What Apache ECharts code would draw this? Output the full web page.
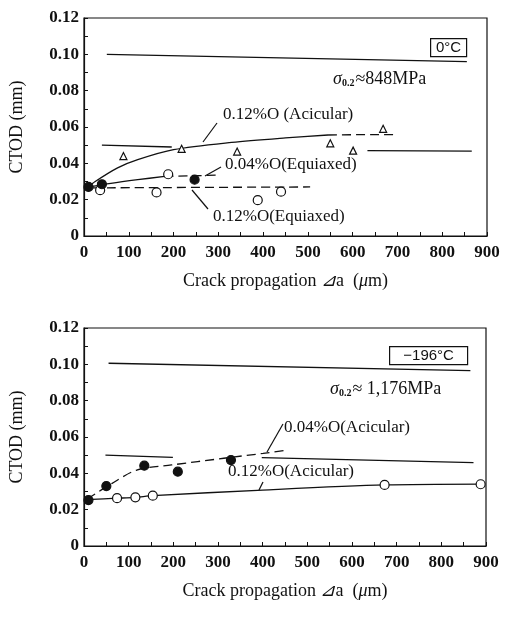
<!DOCTYPE html>
<html>
<head>
<meta charset="utf-8">
<script src="https://cdn.jsdelivr.net/npm/echarts@6/dist/echarts.min.js"></script>
<style>
  html, body { margin: 0; padding: 0; background: #fff; }
  #main { width: 509px; height: 617px; }
</style>
</head>
<body>
<div id="main"></div>
<script>
// 坐标刻度
var xTicks = [0, 900, 100];
var yTicks = [0, 0.12, 0.02];

// 上图 0°C
var topAcic12 = [[88, 0.044], [218, 0.048], [342, 0.0465], [550, 0.051], [601, 0.047], [668, 0.059]];
var topEqui04 = [[10, 0.027], [40, 0.0285], [247, 0.031]];
var topEqui12 = [[36, 0.0252], [162, 0.024], [188, 0.034], [388, 0.0197], [440, 0.0244]];
var topAcicCurve = [[10, 0.027], [25, 0.030], [75, 0.0375], [120, 0.042], [200, 0.0475], [330, 0.0515], [450, 0.054], [545, 0.0556]];
var topAcicDash = [[545, 0.0556], [640, 0.0558], [692, 0.0558]];
var topEqui04Curve = [[10, 0.027], [60, 0.029], [120, 0.031], [180, 0.0328]];
var topEqui04Dash = [[180, 0.0328], [300, 0.0335]];
var topEqui12Line = [[20, 0.0265], [505, 0.027]];
var topSigma = [[51, 0.100], [855, 0.096]];
var topMid = [[40, 0.050], [196, 0.049], '-', [633, 0.047], [866, 0.0467]];

// 下图 -196°C
var botAcic04 = [[10, 0.0253], [50, 0.033], [135, 0.0442], [210, 0.0409], [329, 0.0473]];
var botAcic12 = [[74, 0.0263], [115, 0.0268], [154, 0.0277], [673, 0.0336], [888, 0.034]];
var botAcic04Curve = [[8, 0.026], [63, 0.0345], [118, 0.0418], [196, 0.0446], [313, 0.0483], [401, 0.051], [457, 0.0528]];
var botAcic12Line = [[5, 0.0255], [74, 0.0263], [115, 0.0268], [154, 0.0277], [400, 0.0308], [673, 0.0336], [888, 0.0341]];
var botSigma = [[55, 0.1006], [865, 0.0965]];
var botMid = [[48, 0.050], [199, 0.0488], '-', [398, 0.0486], [872, 0.0459]];

var serif = '"Liberation Serif", "DejaVu Serif", serif';
var ink = '#111';

function xAxisOf(idx) {
    return {
        gridIndex: idx,
        type: 'value',
        min: xTicks[0], max: xTicks[1], interval: xTicks[2],
        name: 'Crack propagation {d|⊿}a  ({m|μ}m)',
        nameLocation: 'middle',
        nameGap: 36,
        nameTextStyle: {
            color: ink, fontFamily: serif, fontSize: 18,
            rich: {
                d: { fontFamily: serif, fontStyle: 'italic', fontSize: 18, color: ink },
                m: { fontFamily: serif, fontStyle: 'italic', fontSize: 18, color: ink }
            }
        },
        axisLine: { lineStyle: { color: ink, width: 1.2 } },
        axisTick: { inside: true, length: 4, lineStyle: { color: ink } },
        minorTick: { show: true, splitNumber: 2, length: 4, lineStyle: { color: ink } },
        splitLine: { show: false },
        axisLabel: { color: ink, fontFamily: serif, fontSize: 17, fontWeight: 'bold', margin: 8 }
    };
}
function yAxisOf(idx) {
    return {
        gridIndex: idx,
        type: 'value',
        min: yTicks[0], max: yTicks[1], interval: yTicks[2],
        name: 'CTOD (mm)',
        nameLocation: 'middle',
        nameGap: 58,
        nameTextStyle: { color: ink, fontFamily: serif, fontSize: 18 },
        axisLine: { lineStyle: { color: ink, width: 1.2 } },
        axisTick: { inside: true, length: 4, lineStyle: { color: ink } },
        minorTick: { show: true, splitNumber: 2, length: 4, lineStyle: { color: ink } },
        splitLine: { show: false },
        axisLabel: {
            color: ink, fontFamily: serif, fontSize: 17, fontWeight: 'bold', margin: 5,
            formatter: function (v) { return v === 0 ? '0' : v.toFixed(2); }
        }
    };
}
function lineOf(idx, data, dashed) {
    return {
        type: 'line', xAxisIndex: idx, yAxisIndex: idx,
        data: data, showSymbol: false, smooth: 0.3, connectNulls: false,
        lineStyle: { color: ink, width: 1.3, type: dashed ? [9, 5] : 'solid' },
        silent: true, z: 2
    };
}
function pointsOf(idx, data, symbol, filled, size) {
    return {
        type: 'scatter', xAxisIndex: idx, yAxisIndex: idx,
        data: data, symbol: symbol, symbolSize: size,
        itemStyle: { color: filled ? ink : '#fff', borderColor: ink, borderWidth: 1.2, opacity: 1 },
        z: 5
    };
}
function label(x, y, text, size) {
    return {
        type: 'text', left: x, top: y,
        style: { text: text, fontFamily: serif, fontSize: size || 17, fill: ink }
    };
}
function leader(x1, y1, x2, y2) {
    return {
        type: 'line', shape: { x1: x1, y1: y1, x2: x2, y2: y2 },
        style: { stroke: ink, lineWidth: 1.2 }
    };
}
function sigma(x, y, rest) {
    return {
        type: 'text', left: x, top: y,
        style: {
            text: '{s|σ}{b|0.2}{t|' + rest + '}',
            rich: {
                s: { fontFamily: serif, fontStyle: 'italic', fontSize: 18, fill: ink, verticalAlign: 'middle' },
                b: { fontFamily: serif, fontWeight: 'bold', fontSize: 10, fill: ink, verticalAlign: 'bottom', padding: [6, 1, 0, 0] },
                t: { fontFamily: serif, fontSize: 18, fill: ink, verticalAlign: 'middle' }
            }
        }
    };
}
function box(x, y, w, h, text) {
    return {
        type: 'group', left: x, top: y,
        children: [
            { type: 'rect', shape: { x: 0, y: 0, width: w, height: h }, style: { fill: '#fff', stroke: ink, lineWidth: 1.2 } },
            { type: 'text', style: { x: w / 2, y: h / 2, text: text, fontFamily: '"Liberation Sans", sans-serif', fontSize: 15, fill: ink, align: 'center', verticalAlign: 'middle' } }
        ]
    };
}

var myChart = echarts.init(document.getElementById('main'));
var option = {
    animation: false,
    backgroundColor: '#fff',
    grid: [
        { left: 82, top: 18, width: 405, height: 218, show: true, borderColor: ink, borderWidth: 1.2 },
        { left: 78, top: 328, width: 408, height: 218, show: true, borderColor: ink, borderWidth: 1.2 }
    ],
    xAxis: [xAxisOf(0), xAxisOf(1)],
    yAxis: [yAxisOf(0), yAxisOf(1)],
    series: [
        lineOf(0, topSigma, false),
        lineOf(0, topMid, false),
        lineOf(0, topAcicCurve, false),
        lineOf(0, topAcicDash, true),
        lineOf(0, topEqui04Curve, false),
        lineOf(0, topEqui04Dash, true),
        lineOf(0, topEqui12Line, true),
        pointsOf(0, topAcic12, 'triangle', false, 7),
        pointsOf(0, topEqui12, 'circle', false, 9),
        pointsOf(0, topEqui04, 'circle', true, 9),

        lineOf(1, botSigma, false),
        lineOf(1, botMid, false),
        lineOf(1, botAcic04Curve, true),
        lineOf(1, botAcic12Line, false),
        pointsOf(1, botAcic12, 'circle', false, 9),
        pointsOf(1, botAcic04, 'circle', true, 9)
    ],
    graphic: [
        box(430, 38, 36, 18, '0°C'),
        sigma(333, 70, '≈848MPa'),
        label(223, 106, '0.12%O (Acicular)'),
        leader(217, 123, 203, 142),
        label(225, 156, '0.04%O(Equiaxed)'),
        leader(221, 167, 205, 176),
        label(213, 208, '0.12%O(Equiaxed)'),
        leader(208, 209, 192, 190),

        box(389, 346, 78, 18, '−196°C'),
        sigma(330, 380, '≈ 1,176MPa'),
        label(284, 419, '0.04%O(Acicular)'),
        leader(283, 424, 267, 452),
        label(228, 463, '0.12%O(Acicular)'),
        leader(263, 482, 259, 490)
    ]
};
myChart.setOption(option);
</script>
</body>
</html>
